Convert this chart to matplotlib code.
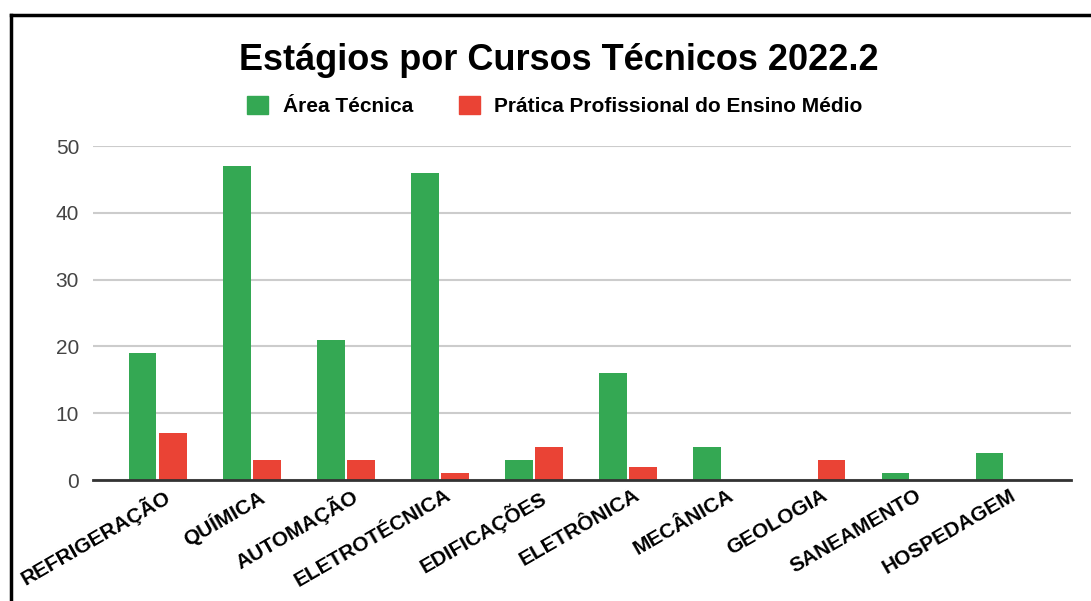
import numpy as np
import matplotlib.pyplot as plt
import matplotlib.transforms as mtransforms
from matplotlib.lines import Line2D
from matplotlib.patches import Patch

plt.rcParams['font.family'] = ['Liberation Sans', 'DejaVu Sans']

# Dados
cursos = ['REFRIGERAÇÃO', 'QUÍMICA', 'AUTOMAÇÃO', 'ELETROTÉCNICA', 'EDIFICAÇÕES',
          'ELETRÔNICA', 'MECÂNICA', 'GEOLOGIA', 'SANEAMENTO', 'HOSPEDAGEM']
area_tecnica = [19, 47, 21, 46, 3, 16, 5, 0, 1, 4]
pratica = [7, 3, 3, 1, 5, 2, 0, 3, 0, 0]
series_nomes = ['Área Técnica', 'Prática Profissional do Ensino Médio']
cores = ['#34A853', '#EA4335']
y_ticks = [0, 10, 20, 30, 40, 50]

W, H = 1091, 601
fig = plt.figure(figsize=(W / 100, H / 100), dpi=100)
ax = fig.add_axes([93 / W, 1 - 480 / H, (1071 - 93) / W, (480 - 146) / H])

x = np.arange(len(cursos))
largura = 0.29
ax.bar(x - 0.16, area_tecnica, largura, color=cores[0], zorder=3)
ax.bar(x + 0.16, pratica, largura, color=cores[1], zorder=3)

ax.set_xlim(-0.69, 9.71)
ax.set_ylim(0, 50)
ax.set_yticks(y_ticks)
ax.tick_params(axis='y', length=0, pad=10, labelsize=15, labelcolor='#444444')
ax.tick_params(axis='x', length=0, pad=4)
ax.set_xticks(x)
ax.set_xticklabels(cursos, rotation=30, ha='right', rotation_mode='anchor',
                   fontsize=15, fontweight='bold')
desloc = mtransforms.ScaledTranslation(5 / 100, 0, fig.dpi_scale_trans)
for lbl in ax.get_xticklabels():
    lbl.set_transform(lbl.get_transform() + desloc)
ax.grid(axis='y', color='#cccccc', linewidth=1.5, zorder=0)
for s in ['top', 'right', 'left']:
    ax.spines[s].set_visible(False)
ax.spines['bottom'].set_color('#333333')
ax.spines['bottom'].set_linewidth(2)
ax.spines['bottom'].set_zorder(4)

# Título e legenda
fig.text(559 / W, 1 - 60 / H, 'Estágios por Cursos Técnicos 2022.2',
         ha='center', va='center', fontsize=26, fontweight='bold')
handles = [Patch(facecolor=c, edgecolor=c) for c in cores]
fig.legend(handles, series_nomes, loc='center', bbox_to_anchor=(555 / W, 1 - 106 / H),
           ncol=2, frameon=False, prop={'weight': 'bold', 'size': 15},
           handlelength=1.0, handleheight=1.0, handletextpad=0.7, columnspacing=2.2)

# Moldura
fig.add_artist(Line2D([11.5 / W, 11.5 / W], [0, 1 - 14.5 / H], color='black', lw=2.5))
fig.add_artist(Line2D([11.5 / W, 1], [1 - 14.5 / H, 1 - 14.5 / H], color='black', lw=2.5))

fig.savefig('out.png', dpi=100)
